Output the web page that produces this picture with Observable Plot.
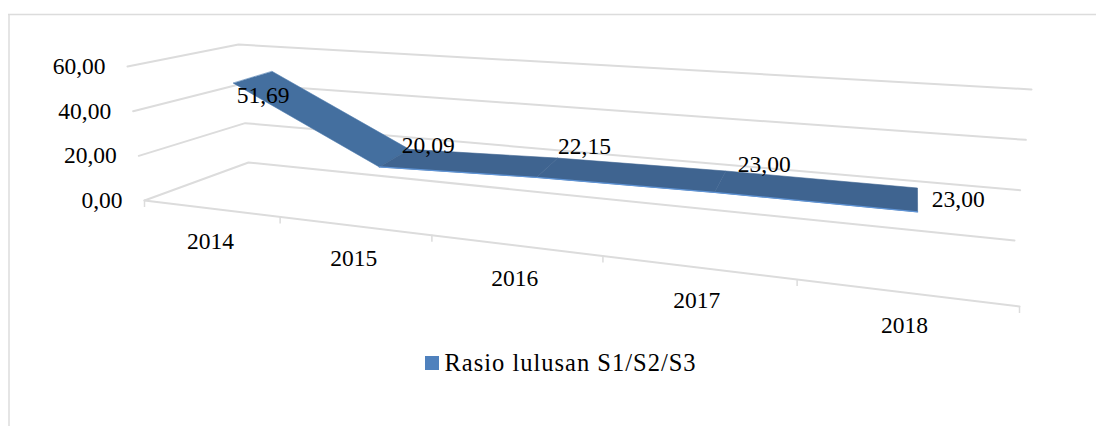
<!DOCTYPE html>
<html>
<head>
<meta charset="utf-8">
<style>html,body{margin:0;padding:0;background:#fff;overflow:hidden}svg{display:block}</style>
<script src="https://cdn.jsdelivr.net/npm/d3@7"></script>
<script src="https://cdn.jsdelivr.net/npm/@observablehq/plot@0.6"></script>
</head>
<body>
<div id="chart"></div>
<script>
const years = ["2014", "2015", "2016", "2017", "2018"];
const values = [51.69, 20.09, 22.15, 23.00, 23.00];
const valueTicks = [0, 20, 40, 60];
const seriesName = "Rasio lulusan S1/S2/S3";

// Camera of the 3D chart box: where the box corners fall on the page.
const box = {
  frontLeft:  {bottom: [144, 200],  top: [127, 66]},
  backLeft:   {bottom: [248, 162],  top: [238, 44]},
  frontRight: {bottom: [1019, 306], top: [1049, 126]},
  backRight:  {bottom: [1014, 240], top: [1031, 89]}
};
const perspective = 0.363;
const ribbonDepth = [0.27, 0.73];
const labelNudge = [[14, 18], [37, -13], [40, -21], [46, -17], [42, 0]];

const mix = (a, b, t) => [a[0] + (b[0] - a[0]) * t, a[1] + (b[1] - a[1]) * t];
// u: categories along the axis (0..n), w: depth (0 front..1 back), v: value
function project(u, w, v) {
  const s = u / years.length;
  const t = s / (1 + perspective * (1 - s));
  const f = v / 60;
  const corner = c => mix(c.bottom, c.top, f);
  const front = mix(corner(box.frontLeft), corner(box.frontRight), t);
  const back = mix(corner(box.backLeft), corner(box.backRight), t);
  const [x, y] = mix(front, back, w);
  return {x, y};
}
// the near edge of the ribbon leans slightly towards the viewer's right on the left side
const ribbonLean = u => 8 - 6 * (u / years.length);

const grid = "#dcdcdc";
const textStyle = {fontFamily: "'Liberation Serif', serif", fontSize: 23.5, fill: "#000", lineAnchor: "middle"};

const wallLines = valueTicks.map(v => [project(0, 0, v), project(0, 1, v), project(years.length, 1, v)]);
const floorFront = [project(0, 0, 0), project(years.length, 0, 0)];
const tickPositions = d3.range(years.length + 1).map(u => project(u, 0, 0));

const points = values.map((v, i) => {
  const f = project(i + 0.5, ribbonDepth[0], v);
  return {i, value: v,
    front: {x: f.x + ribbonLean(i + 0.5), y: f.y},
    back: project(i + 0.5, ribbonDepth[1], v),
    mid: project(i + 0.5, 0.5, v)};
});
const segments = d3.pairs(points).map(([a, b]) => [a.front, b.front, b.back, a.back]);
const frontEdge = points.slice(1).map(p => p.front);

const chart = Plot.plot({
  width: 1096, height: 426,
  margin: 0,
  x: {domain: [0, 1096], range: [0, 1096], axis: null},
  y: {domain: [0, 426], range: [0, 426], axis: null},
  marks: [
    // outer chart frame
    Plot.ruleY([14], {x1: 8, x2: 1096, stroke: "#dcdcdc", strokeWidth: 1.5}),
    Plot.ruleX([8.5], {y1: 14, y2: 426, stroke: "#dcdcdc", strokeWidth: 1.5}),
    // walls and floor
    ...wallLines.map(line => Plot.line(line, {x: "x", y: "y", stroke: grid, strokeWidth: 2})),
    Plot.line(floorFront, {x: "x", y: "y", stroke: grid, strokeWidth: 2}),
    Plot.ruleX(tickPositions, {x: "x", y1: "y", y2: d => d.y + 7, stroke: grid, strokeWidth: 1.5}),
    // value and category labels
    Plot.text(valueTicks, {
      x: v => project(0, 0, v).x, y: v => project(0, 0, v).y,
      text: v => d3.format(".2f")(v).replace(".", ","),
      textAnchor: "end", dx: -22, ...textStyle
    }),
    Plot.text(years, {
      x: (d, i) => project(i + 0.5, 0, 0).x, y: (d, i) => project(i + 0.5, 0, 0).y,
      text: d => d, dy: 33, textAnchor: "middle", ...textStyle
    }),
    // ribbon
    ...segments.map((seg, i) => Plot.line(seg, {
      x: "x", y: "y", fill: i === 0 ? "#446f9f" : "#3f6490",
      stroke: i === 0 ? "#4a78ad" : "#3f6490", strokeWidth: 0.6, curve: "linear-closed"
    })),
    Plot.line(frontEdge, {x: "x", y: "y", stroke: "#5f94d6", strokeWidth: 1.2}),
    // data labels
    ...points.map(p => Plot.text([p], {
      x: d => d.mid.x, y: d => d.mid.y,
      text: d => d.value.toFixed(2).replace(".", ","),
      dx: labelNudge[p.i][0], dy: labelNudge[p.i][1], textAnchor: "middle", ...textStyle
    })),
    // legend
    Plot.rect([seriesName], {x1: 425, x2: 439, y1: 356, y2: 370, fill: "#4f81bd"}),
    Plot.text([seriesName], {x: 444, y: 363, text: d => d, textAnchor: "start", ...textStyle, fontSize: 24.5,
      render(index, scales, values, dimensions, context, next) {
        const g = next(index, scales, values, dimensions, context);
        g.style.letterSpacing = "1px";
        return g;
      }})
  ]
});
document.getElementById("chart").append(chart);
</script>
</body>
</html>
